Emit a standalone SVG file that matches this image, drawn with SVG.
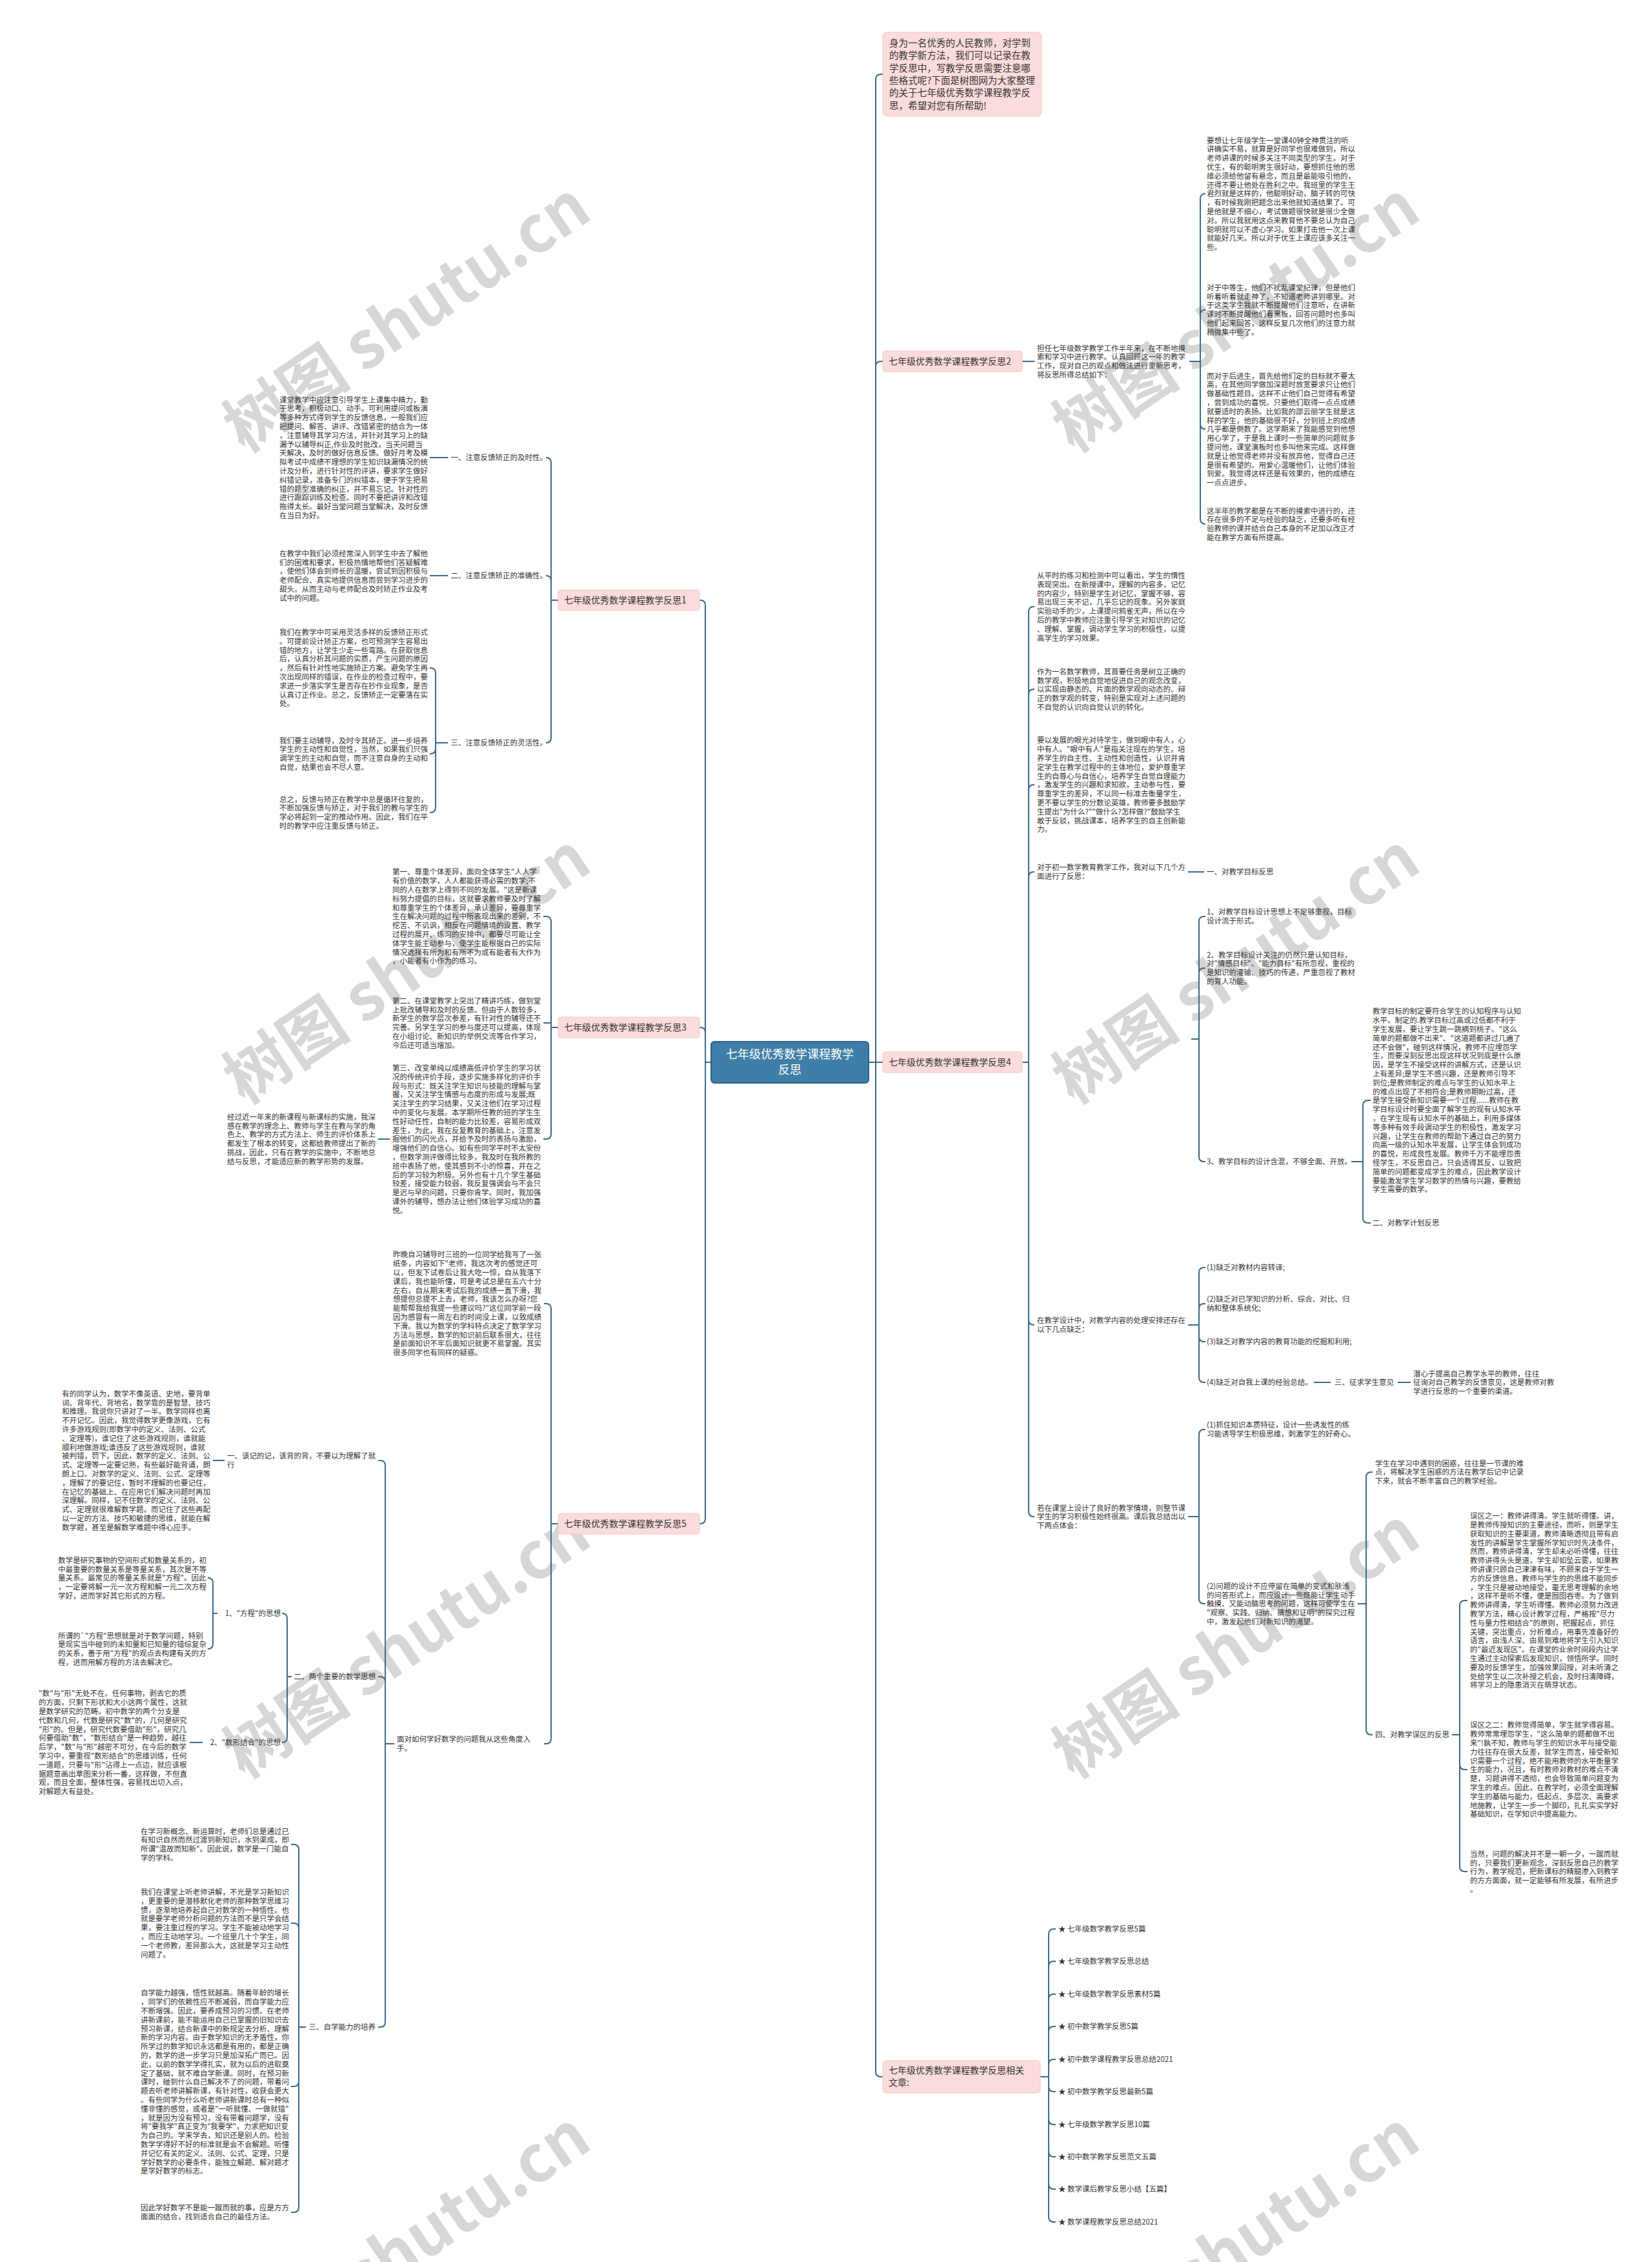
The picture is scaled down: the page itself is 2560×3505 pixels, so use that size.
<svg xmlns="http://www.w3.org/2000/svg" width="2560" height="3505" viewBox="0 0 2560 3505">
<style>
.t{font-family:"Noto Sans CJK SC","Liberation Sans",sans-serif;font-size:11.5px;fill:#333}
.e{text-anchor:end}
.lb{font-family:"Noto Sans CJK SC","Liberation Sans",sans-serif;font-size:14px;fill:#333}
.ct{font-family:"Noto Sans CJK SC","Liberation Sans",sans-serif;font-size:18px;fill:#fff;text-anchor:middle}
.pk{fill:#fbdcdc;stroke:#f3c4c4;stroke-width:1}
.c{fill:none;stroke:#3a6a8a;stroke-width:2}
.wm{font-family:"Noto Sans CJK SC","Liberation Sans",sans-serif;font-size:100px;font-weight:bold;fill:#d6d6d6;text-anchor:middle}
</style>
<rect width="2560" height="3505" fill="#fff"/>
<g id="watermarks">
<text class="wm" transform="translate(650,520) rotate(-34)">树图 shutu.cn</text>
<text class="wm" transform="translate(1935,520) rotate(-34)">树图 shutu.cn</text>
<text class="wm" transform="translate(650,1530) rotate(-34)">树图 shutu.cn</text>
<text class="wm" transform="translate(1935,1530) rotate(-34)">树图 shutu.cn</text>
<text class="wm" transform="translate(650,2575) rotate(-34)">树图 shutu.cn</text>
<text class="wm" transform="translate(1935,2575) rotate(-34)">树图 shutu.cn</text>
<text class="wm" transform="translate(650,3510) rotate(-34)">树图 shutu.cn</text>
<text class="wm" transform="translate(1935,3510) rotate(-34)">树图 shutu.cn</text>
</g>
<g id="connectors">
<path class="c" d="M1346,1646 H1368"/>
<path class="c" d="M1357,1646 V123 Q1357,115 1365,115 H1368"/>
<path class="c" d="M1357,1646 V568 Q1357,560 1365,560 H1368"/>
<path class="c" d="M1357,1646 V3210 Q1357,3218 1365,3218 H1368"/>
<path class="c" d="M1584,560 H1603"/>
<path class="c" d="M1843,560 H1860 V308 Q1860,300 1868,300"/>
<path class="c" d="M1860,560 V488 Q1860,480 1868,480"/>
<path class="c" d="M1860,560 V657 Q1860,665 1868,665"/>
<path class="c" d="M1860,560 V804 Q1860,812 1868,812"/>
<path class="c" d="M1584,1646 H1594 V948 Q1594,940 1602,940 H1603"/>
<path class="c" d="M1594,1646 V1076 Q1594,1068 1602,1068 H1603"/>
<path class="c" d="M1594,1646 V1224 Q1594,1216 1602,1216 H1603"/>
<path class="c" d="M1594,1646 V1359 Q1594,1351 1602,1351 H1603"/>
<path class="c" d="M1594,1646 V2045 Q1594,2053 1602,2053 H1603"/>
<path class="c" d="M1594,1646 V2342 Q1594,2350 1602,2350 H1603"/>
<path class="c" d="M1841,1351 H1866"/>
<path class="c" d="M1846,1610 H1858 V1428 Q1858,1420 1866,1420 H1868"/>
<path class="c" d="M1858,1610 V1508 Q1858,1500 1866,1500 H1868"/>
<path class="c" d="M1858,1610 V1792 Q1858,1800 1866,1800 H1868"/>
<path class="c" d="M2094,1800 H2112 V1713 Q2112,1705 2120,1705 H2124"/>
<path class="c" d="M2112,1800 V1887 Q2112,1895 2120,1895 H2124"/>
<path class="c" d="M1841,2053 H1858 V1972 Q1858,1964 1866,1964 H1868"/>
<path class="c" d="M1858,2053 V2028 Q1858,2020 1866,2020 H1868"/>
<path class="c" d="M1858,2053 V2071 Q1858,2079 1866,2079 H1868"/>
<path class="c" d="M1858,2053 V2134 Q1858,2142 1866,2142 H1868"/>
<path class="c" d="M2036,2142 H2062"/>
<path class="c" d="M2166,2142 H2186"/>
<path class="c" d="M1841,2350 H1858 V2223 Q1858,2215 1866,2215 H1868"/>
<path class="c" d="M1858,2350 V2477 Q1858,2485 1866,2485 H1868"/>
<path class="c" d="M2104,2485 H2117 V2289 Q2117,2281 2125,2281 H2127"/>
<path class="c" d="M2117,2485 V2680 Q2117,2688 2125,2688 H2127"/>
<path class="c" d="M2250,2688 H2262 V2488 Q2262,2480 2270,2480 H2274"/>
<path class="c" d="M2262,2688 V2734 Q2262,2742 2270,2742 H2274"/>
<path class="c" d="M2262,2688 V2892 Q2262,2900 2270,2900 H2274"/>
<path class="c" d="M1612,3218 H1625 V2997 Q1625,2989 1633,2989 H1636"/>
<path class="c" d="M1625,3218 V3047 Q1625,3039 1633,3039 H1636"/>
<path class="c" d="M1625,3218 V3098 Q1625,3090 1633,3090 H1636"/>
<path class="c" d="M1625,3218 V3148 Q1625,3140 1633,3140 H1636"/>
<path class="c" d="M1625,3218 V3199 Q1625,3191 1633,3191 H1636"/>
<path class="c" d="M1625,3218 V3233 Q1625,3241 1633,3241 H1636"/>
<path class="c" d="M1625,3218 V3284 Q1625,3292 1633,3292 H1636"/>
<path class="c" d="M1625,3218 V3334 Q1625,3342 1633,3342 H1636"/>
<path class="c" d="M1625,3218 V3384 Q1625,3392 1633,3392 H1636"/>
<path class="c" d="M1625,3218 V3435 Q1625,3443 1633,3443 H1636"/>
<path class="c" d="M1102,1646 H1093 V938 Q1093,930 1085,930 H1084"/>
<path class="c" d="M1093,1646 V1600 Q1093,1592 1085,1592 H1084"/>
<path class="c" d="M1093,1646 V2353 Q1093,2361 1085,2361 H1084"/>
<path class="c" d="M865,930 H854 V717 Q854,709 846,709"/>
<path class="c" d="M854,930 V900 Q854,892 846,892"/>
<path class="c" d="M854,930 V1143 Q854,1151 846,1151"/>
<path class="c" d="M694,709 H666"/>
<path class="c" d="M694,892 H666"/>
<path class="c" d="M694,1151 H675 V1043 Q675,1035 667,1035 H666"/>
<path class="c" d="M675,1151 V1160 Q675,1168 667,1168 H666"/>
<path class="c" d="M675,1151 V1251 Q675,1259 667,1259 H666"/>
<path class="c" d="M865,1592 H854 V1428 Q854,1420 846,1420 H842"/>
<path class="c" d="M854,1592 V1585 H842"/>
<path class="c" d="M854,1592 V1757 Q854,1765 846,1765 H842"/>
<path class="c" d="M604,1765 H586"/>
<path class="c" d="M865,2361 H854 V2028 Q854,2020 846,2020 H843"/>
<path class="c" d="M854,2361 V2694 Q854,2702 846,2702 H843"/>
<path class="c" d="M611,2702 H597 V2271 Q597,2263 589,2263 H586"/>
<path class="c" d="M597,2702 V2606 Q597,2598 589,2598 H586"/>
<path class="c" d="M597,2702 V3133 Q597,3141 589,3141 H586"/>
<path class="c" d="M348,2263 H330"/>
<path class="c" d="M452,2598 H445 V2508 Q445,2500 437,2500"/>
<path class="c" d="M445,2598 V2692 Q445,2700 437,2700"/>
<path class="c" d="M337,2500 H330 V2453 Q330,2445 322,2445"/>
<path class="c" d="M330,2500 V2547 Q330,2555 322,2555"/>
<path class="c" d="M314,2700 H294"/>
<path class="c" d="M474,3141 H463 V2866 Q463,2858 455,2858 H451"/>
<path class="c" d="M463,3141 V2988 Q463,2980 455,2980 H451"/>
<path class="c" d="M463,3141 V3225 Q463,3233 455,3233 H451"/>
<path class="c" d="M463,3141 V3420 Q463,3428 455,3428 H451"/>
</g>
<g id="center">
<rect x="1102" y="1614" width="244" height="64" rx="5" fill="#3f7ea6" stroke="#2d6289" stroke-width="2"/>
<text class="ct" x="1224" y="1640">七年级优秀数学课程教学</text>
<text class="ct" x="1224" y="1664">反思</text>
</g>
<g id="intro">
<rect class="pk" x="1368" y="50" width="246" height="130" rx="6"/>
<text class="lb" y="72" style="font-size:14.6px"><tspan x="1378" dy="0">身为一名优秀的人民教师，对学到</tspan><tspan x="1378" dy="19.3">的教学新方法，我们可以记录在教</tspan><tspan x="1378" dy="19.3">学反思中，写教学反思需要注意哪</tspan><tspan x="1378" dy="19.3">些格式呢?下面是树图网为大家整理</tspan><tspan x="1378" dy="19.3">的关于七年级优秀数学课程教学反</tspan><tspan x="1378" dy="19.3">思，希望对您有所帮助!</tspan></text>
</g>
<g id="r2">
<rect class="pk" x="1368" y="544" width="216" height="32" rx="4"/>
<text class="lb" x="1377" y="565">七年级优秀数学课程教学反思2</text>
</g>
<g id="r2-intro"><text class="t" y="543.5"><tspan x="1607" dy="0">担任七年级数学教学工作半年来，在不断地摸</tspan><tspan x="1607" dy="13.8">索和学习中进行教学。认真回顾这一年的教学</tspan><tspan x="1607" dy="13.8">工作，现对自己的观点和做法进行重新思考，</tspan><tspan x="1607" dy="13.8">将反思所得总结如下：</tspan></text></g>
<g id="r2-p1"><text class="t" y="221.5"><tspan x="1870" dy="0">要想让七年级学生一堂课40钟全神贯注的听</tspan><tspan x="1870" dy="13.8">讲确实不易，就算是好同学也很难做到，所以</tspan><tspan x="1870" dy="13.8">老师讲课的时候多关注不同类型的学生。对于</tspan><tspan x="1870" dy="13.8">优生，有的聪明男生很好动，要想抓住他的思</tspan><tspan x="1870" dy="13.8">维必须给他留有悬念，而且是最能吸引他的，</tspan><tspan x="1870" dy="13.8">还得不要让他处在胜利之中。我班里的学生王</tspan><tspan x="1870" dy="13.8">君烈就是这样的，他聪明好动，脑子转的可快</tspan><tspan x="1870" dy="13.8">，有时候我刚把题念出来他就知道结果了。可</tspan><tspan x="1870" dy="13.8">是他就是不细心，考试做题很快就是很少全做</tspan><tspan x="1870" dy="13.8">对。所以我就用这点来教育他不要总认为自己</tspan><tspan x="1870" dy="13.8">聪明就可以不虚心学习。如果打击他一次上课</tspan><tspan x="1870" dy="13.8">就能好几天。所以对于优生上课应该多关注一</tspan><tspan x="1870" dy="13.8">些。</tspan></text></g>
<g id="r2-p2"><text class="t" y="449.8"><tspan x="1870" dy="0">对于中等生，他们不扰乱课堂纪律，但是他们</tspan><tspan x="1870" dy="13.8">听着听着就走神了，不知道老师讲到哪里。对</tspan><tspan x="1870" dy="13.8">于这类学生我就不断提醒他们注意听，在讲新</tspan><tspan x="1870" dy="13.8">课时不断提醒他们看黑板，回答问题时也多叫</tspan><tspan x="1870" dy="13.8">他们起来回答，这样反复几次他们的注意力就</tspan><tspan x="1870" dy="13.8">稍微集中些了。</tspan></text></g>
<g id="r2-p3"><text class="t" y="586.5"><tspan x="1870" dy="0">而对于后进生，首先给他们定的目标就不要太</tspan><tspan x="1870" dy="13.8">高，在其他同学做加深题时放宽要求只让他们</tspan><tspan x="1870" dy="13.8">做基础性题目。这样不止他们自己觉得有希望</tspan><tspan x="1870" dy="13.8">，尝到成功的喜悦。只要他们取得一点点成绩</tspan><tspan x="1870" dy="13.8">就要适时的表扬。比如我的邵云丽学生就是这</tspan><tspan x="1870" dy="13.8">样的学生，他的基础很不好，分到班上的成绩</tspan><tspan x="1870" dy="13.8">几乎都是倒数了。这学期来了我能感觉到他想</tspan><tspan x="1870" dy="13.8">用心学了，于是我上课时一些简单的问题就多</tspan><tspan x="1870" dy="13.8">提问他，课堂演板时也多叫他来完成。这样做</tspan><tspan x="1870" dy="13.8">就是让他觉得老师并没有放弃他，觉得自己还</tspan><tspan x="1870" dy="13.8">是很有希望的。用爱心温暖他们，让他们体验</tspan><tspan x="1870" dy="13.8">到爱。我觉得这样还是有效果的，他的成绩在</tspan><tspan x="1870" dy="13.8">一点点进步。</tspan></text></g>
<g id="r2-p4"><text class="t" y="795.6"><tspan x="1870" dy="0">这半年的教学都是在不断的摸索中进行的，还</tspan><tspan x="1870" dy="13.8">存在很多的不足与经验的缺乏，还要多听有经</tspan><tspan x="1870" dy="13.8">验教师的课并结合自己本身的不足加以改正才</tspan><tspan x="1870" dy="13.8">能在教学方面有所提高。</tspan></text></g>
<g id="r4">
<rect class="pk" x="1368" y="1630" width="216" height="32" rx="4"/>
<text class="lb" x="1377" y="1651">七年级优秀数学课程教学反思4</text>
</g>
<g id="r4-a"><text class="t" y="896"><tspan x="1607" dy="0">从平时的练习和检测中可以看出，学生的惰性</tspan><tspan x="1607" dy="13.8">表现突出。在新授课中，理解的内容多，记忆</tspan><tspan x="1607" dy="13.8">的内容少，特别是学生对记忆，掌握不够，容</tspan><tspan x="1607" dy="13.8">易出现三天不记，几乎忘记的现象。另外家庭</tspan><tspan x="1607" dy="13.8">实验动手的少，上课提问鸦雀无声，所以在今</tspan><tspan x="1607" dy="13.8">后的教学中教师应注重引导学生对知识的记忆</tspan><tspan x="1607" dy="13.8">、理解、掌握，调动学生学习的积极性，以提</tspan><tspan x="1607" dy="13.8">高学生的学习效果。</tspan></text></g>
<g id="r4-b"><text class="t" y="1044.7"><tspan x="1607" dy="0">作为一名数学教师，其首要任务是树立正确的</tspan><tspan x="1607" dy="13.8">数学观，积极地自觉地促进自己的观念改变，</tspan><tspan x="1607" dy="13.8">以实现由静态的、片面的数学观向动态的、辩</tspan><tspan x="1607" dy="13.8">正的数学观的转变，特别是实现对上述问题的</tspan><tspan x="1607" dy="13.8">不自觉的认识向自觉认识的转化。</tspan></text></g>
<g id="r4-c"><text class="t" y="1151.3"><tspan x="1607" dy="0">要以发展的眼光对待学生，做到眼中有人，心</tspan><tspan x="1607" dy="13.8">中有人。"眼中有人"是指关注现在的学生，培</tspan><tspan x="1607" dy="13.8">养学生的自主性、主动性和创造性，认识并肯</tspan><tspan x="1607" dy="13.8">定学生在教学过程中的主体地位，爱护尊重学</tspan><tspan x="1607" dy="13.8">生的自尊心与自信心，培养学生自觉自理能力</tspan><tspan x="1607" dy="13.8">，激发学生的兴趣和求知欲，主动参与性，要</tspan><tspan x="1607" dy="13.8">尊重学生的差异，不以同一标准去衡量学生，</tspan><tspan x="1607" dy="13.8">更不要以学生的分数论英雄，教师要多鼓励学</tspan><tspan x="1607" dy="13.8">生提出"为什么?""做什么?怎样做?"鼓励学生</tspan><tspan x="1607" dy="13.8">敢于反驳，挑战课本，培养学生的自主创新能</tspan><tspan x="1607" dy="13.8">力。</tspan></text></g>
<g id="r4-d"><text class="t" y="1348.4"><tspan x="1607" dy="0">对于初一数学教育教学工作，我对以下几个方</tspan><tspan x="1607" dy="13.8">面进行了反思：</tspan></text></g>
<g id="r4-d1"><text class="t" x="1870" y="1355.3">一、对教学目标反思</text></g>
<g id="r4-g1"><text class="t" y="1417.4"><tspan x="1870" dy="0">1、对教学目标设计思想上不足够重视，目标</tspan><tspan x="1870" dy="13.8">设计流于形式。</tspan></text></g>
<g id="r4-g2"><text class="t" y="1483.6"><tspan x="1870" dy="0">2、教学目标设计关注的仍然只是认知目标，</tspan><tspan x="1870" dy="13.8">对"情感目标"、"能力目标"有所忽视，重视的</tspan><tspan x="1870" dy="13.8">是知识的灌输、技巧的传递，严重忽视了教材</tspan><tspan x="1870" dy="13.8">的育人功能。</tspan></text></g>
<g id="r4-g3"><text class="t" x="1870" y="1804.3">3、教学目标的设计含混，不够全面、开放。</text></g>
<g id="r4-g3a"><text class="t" y="1571.3"><tspan x="2127" dy="0">教学目标的制定要符合学生的认知程序与认知</tspan><tspan x="2127" dy="13.8">水平。制定的.教学目标过高或过低都不利于</tspan><tspan x="2127" dy="13.8">学生发展，要让学生跳一跳摘到桃子。"这么</tspan><tspan x="2127" dy="13.8">简单的题都做不出来"、"这道题都讲过几遍了</tspan><tspan x="2127" dy="13.8">还不会做"，碰到这样情况，教师不应埋怨学</tspan><tspan x="2127" dy="13.8">生，而要深刻反思出现这样状况到底是什么原</tspan><tspan x="2127" dy="13.8">因，是学生不接受这样的讲解方式，还是认识</tspan><tspan x="2127" dy="13.8">上有差异;是学生不感兴趣，还是教师引导不</tspan><tspan x="2127" dy="13.8">到位;是教师制定的难点与学生的认知水平上</tspan><tspan x="2127" dy="13.8">的难点出现了不相符合;是教师期盼过高，还</tspan><tspan x="2127" dy="13.8">是学生接受新知识需要一个过程......教师在教</tspan><tspan x="2127" dy="13.8">学目标设计时要全面了解学生的现有认知水平</tspan><tspan x="2127" dy="13.8">，在学生现有认知水平的基础上，利用多媒体</tspan><tspan x="2127" dy="13.8">等多种有效手段调动学生的积极性，激发学习</tspan><tspan x="2127" dy="13.8">兴趣，让学生在教师的帮助下通过自己的努力</tspan><tspan x="2127" dy="13.8">向高一级的认知水平发展，让学生体会到成功</tspan><tspan x="2127" dy="13.8">的喜悦，形成良性发展。教师千万不能埋怨责</tspan><tspan x="2127" dy="13.8">怪学生，不反思自己，只会适得其反，以致把</tspan><tspan x="2127" dy="13.8">简单的问题都变成学生的难点，因此教学设计</tspan><tspan x="2127" dy="13.8">要能激发学生学习数学的热情与兴趣，要教给</tspan><tspan x="2127" dy="13.8">学生需要的数学。</tspan></text></g>
<g id="r4-g3b"><text class="t" x="2127" y="1899.3">二、对教学计划反思</text></g>
<g id="r4-e"><text class="t" y="2050.4"><tspan x="1607" dy="0">在教学设计中，对教学内容的处理安排还存在</tspan><tspan x="1607" dy="13.8">以下几点缺乏：</tspan></text></g>
<g id="r4-e1"><text class="t" x="1870" y="1968.3">(1)缺乏对教材内容转译;</text></g>
<g id="r4-e2"><text class="t" y="2017.4"><tspan x="1870" dy="0">(2)缺乏对已学知识的分析、综合、对比、归</tspan><tspan x="1870" dy="13.8">纳和整体系统化;</tspan></text></g>
<g id="r4-e3"><text class="t" x="1870" y="2083.3">(3)缺乏对教学内容的教育功能的挖掘和利用;</text></g>
<g id="r4-e4"><text class="t" x="1870" y="2146.3">(4)缺乏对自我上课的经验总结。</text></g>
<g id="r4-e4a"><text class="t" x="2068" y="2146.3">三、征求学生意见</text></g>
<g id="r4-e4b"><text class="t" y="2132.5"><tspan x="2190" dy="0">潜心于提高自己教学水平的教师，往往</tspan><tspan x="2190" dy="13.8">征询对自己教学的反馈意见，这是教师对教</tspan><tspan x="2190" dy="13.8">学进行反思的一个重要的渠道。</tspan></text></g>
<g id="r4-f"><text class="t" y="2340.5"><tspan x="1607" dy="0">若在课堂上设计了良好的教学情境，则整节课</tspan><tspan x="1607" dy="13.8">学生的学习积极性始终很高。课后我总结出以</tspan><tspan x="1607" dy="13.8">下两点体会：</tspan></text></g>
<g id="r4-f1"><text class="t" y="2212.4"><tspan x="1870" dy="0">(1)抓住知识本质特征，设计一些诱发性的练</tspan><tspan x="1870" dy="13.8">习能诱导学生积极思维，刺激学生的好奇心。</tspan></text></g>
<g id="r4-f2"><text class="t" y="2461.7"><tspan x="1870" dy="0">(2)问题的设计不应停留在简单的变式和肤浅</tspan><tspan x="1870" dy="13.8">的问答形式上，而应设计一些既能让学生动手</tspan><tspan x="1870" dy="13.8">触摸、又能动脑思考的问题，这样可使学生在</tspan><tspan x="1870" dy="13.8">"观察、实践、归纳、猜想和证明"的探究过程</tspan><tspan x="1870" dy="13.8">中，激发起他们对新知识的渴望。</tspan></text></g>
<g id="r4-f2a"><text class="t" y="2271.5"><tspan x="2131" dy="0">学生在学习中遇到的困惑，往往是一节课的难</tspan><tspan x="2131" dy="13.8">点，将解决学生困惑的方法在教学后记中记录</tspan><tspan x="2131" dy="13.8">下来，就会不断丰富自己的教学经验。</tspan></text></g>
<g id="r4-f2b"><text class="t" x="2131" y="2692.3">四、对教学误区的反思</text></g>
<g id="r4-w1"><text class="t" y="2353.2"><tspan x="2278" dy="0">误区之一：教师讲得清。学生就听得懂。讲，</tspan><tspan x="2278" dy="13.8">是教师传授知识的主要途径，而听，则是学生</tspan><tspan x="2278" dy="13.8">获取知识的主要渠道，教师清晰透彻且带有启</tspan><tspan x="2278" dy="13.8">发性的讲解是学生掌握所学知识时先决条件，</tspan><tspan x="2278" dy="13.8">然而，教师讲得清，学生却未必听得懂，往往</tspan><tspan x="2278" dy="13.8">教师讲得头头是道，学生却如坠云雾，如果教</tspan><tspan x="2278" dy="13.8">师讲课只顾自己津津有味，不顾来自于学生一</tspan><tspan x="2278" dy="13.8">方的反馈信息，教师与学生的的思维不能同步</tspan><tspan x="2278" dy="13.8">，学生只是被动地接受，毫无思考理解的余地</tspan><tspan x="2278" dy="13.8">，这样不是听不懂，便是囫囵吞枣。为了做到</tspan><tspan x="2278" dy="13.8">教师讲得清，学生听得懂。教师必须努力改进</tspan><tspan x="2278" dy="13.8">教学方法，精心设计教学过程，严格按"尽力</tspan><tspan x="2278" dy="13.8">性与量力性相结合"的原则，把握起点，抓住</tspan><tspan x="2278" dy="13.8">关键，突出重点，分析难点，用事先准备好的</tspan><tspan x="2278" dy="13.8">语言，由浅人深、由易到难地将学生引入知识</tspan><tspan x="2278" dy="13.8">的"最近发现区"。在课堂的业余时间段内让学</tspan><tspan x="2278" dy="13.8">生通过主动探索后发现知识，领悟所学。同时</tspan><tspan x="2278" dy="13.8">要及时反馈学生，加强效果回授，对未听清之</tspan><tspan x="2278" dy="13.8">处给学生以二次补授之机会，及时扫清障碍，</tspan><tspan x="2278" dy="13.8">将学习上的隐患消灭在萌芽状态。</tspan></text></g>
<g id="r4-w2"><text class="t" y="2677.3"><tspan x="2278" dy="0">误区之二：教师觉得简单，学生就学得容易。</tspan><tspan x="2278" dy="13.8">教师常常埋怨学生，"这么简单的题都做不出</tspan><tspan x="2278" dy="13.8">来"!孰不知，教师与学生的知识水平与接受能</tspan><tspan x="2278" dy="13.8">力往往存在很大反差，就学生而言，接受新知</tspan><tspan x="2278" dy="13.8">识需要一个过程，绝不能用教师的水平衡量学</tspan><tspan x="2278" dy="13.8">生的能力，况且，有时教师对教材的难点不清</tspan><tspan x="2278" dy="13.8">楚，习题讲得不透彻，也会导致简单问题变为</tspan><tspan x="2278" dy="13.8">学生的难点。因此，在教学时，必须全面理解</tspan><tspan x="2278" dy="13.8">学生的基础与能力，低起点、多层次、高要求</tspan><tspan x="2278" dy="13.8">地施教，让学生一步一个脚印，扎扎实实学好</tspan><tspan x="2278" dy="13.8">基础知识，在学知识中提高能力。</tspan></text></g>
<g id="r4-w3"><text class="t" y="2876.7"><tspan x="2278" dy="0">当然，问题的解决并不是一朝一夕，一蹴而就</tspan><tspan x="2278" dy="13.8">的，只要我们更新观念，深刻反思自己的教学</tspan><tspan x="2278" dy="13.8">行为，教学规范，把新课标的精髓渗入到教学</tspan><tspan x="2278" dy="13.8">的方方面面，就一定能够有所发展，有所进步</tspan><tspan x="2278" dy="13.8">。</tspan></text></g>
<g id="r-rel">
<rect class="pk" x="1368" y="3193" width="244" height="50" rx="5"/>
<text class="lb" y="3213"><tspan x="1377" dy="0">七年级优秀数学课程教学反思相关</tspan><tspan x="1377" dy="19">文章:</tspan></text>
</g>
<g id="rel-items">
<text class="t" x="1640" y="2993.3">★ 七年级数学教学反思5篇</text>
<text class="t" x="1640" y="3043.3">★ 七年级数学教学反思总结</text>
<text class="t" x="1640" y="3094.3">★ 七年级数学教学反思素材5篇</text>
<text class="t" x="1640" y="3144.3">★ 初中数学教学反思5篇</text>
<text class="t" x="1640" y="3195.3">★ 初中数学课程教学反思总结2021</text>
<text class="t" x="1640" y="3245.3">★ 初中数学教学反思最新5篇</text>
<text class="t" x="1640" y="3296.3">★ 七年级数学教学反思10篇</text>
<text class="t" x="1640" y="3346.3">★ 初中数学教学反思范文五篇</text>
<text class="t" x="1640" y="3396.3">★ 数学课后教学反思小结【五篇】</text>
<text class="t" x="1640" y="3447.3">★ 数学课程教学反思总结2021</text>
</g>
<g id="l1">
<rect class="pk" x="865" y="914" width="219" height="32" rx="4"/>
<text class="lb" x="874" y="935">七年级优秀数学课程教学反思1</text>
</g>
<g id="l1-a"><text class="t e" x="848" y="713.3">一、注意反馈矫正的及时性。</text></g>
<g id="l1-b"><text class="t e" x="848" y="896.3">二、注意反馈矫正的准确性。</text></g>
<g id="l1-c"><text class="t e" x="848" y="1155.3">三、注意反馈矫正的灵活性。</text></g>
<g id="l1-a1"><text class="t" y="623.6"><tspan x="433" dy="0">课堂教学中应注意引导学生上课集中精力，勤</tspan><tspan x="433" dy="13.8">于思考，积极动口、动手。可利用提问或板演</tspan><tspan x="433" dy="13.8">等多种方式得到学生的反馈信息，一般我们应</tspan><tspan x="433" dy="13.8">把提问、解答、讲评、改错紧密的结合为一体</tspan><tspan x="433" dy="13.8">，注意辅导其学习方法，并针对其学习上的缺</tspan><tspan x="433" dy="13.8">漏予以辅导纠正,作业及时批改，当天问题当</tspan><tspan x="433" dy="13.8">天解决，及时的做好信息反馈。做好月考及模</tspan><tspan x="433" dy="13.8">拟考试中成绩不理想的学生知识缺漏情况的统</tspan><tspan x="433" dy="13.8">计及分析，进行针对性的评讲，要求学生做好</tspan><tspan x="433" dy="13.8">纠错记录，准备专门的纠错本，便于学生把易</tspan><tspan x="433" dy="13.8">错的题型准确的纠正，并不易忘记。针对性的</tspan><tspan x="433" dy="13.8">进行跟踪训练及检查。同时不要把讲评和改错</tspan><tspan x="433" dy="13.8">拖得太长。最好当堂问题当堂解决，及时反馈</tspan><tspan x="433" dy="13.8">在当日为好。</tspan></text></g>
<g id="l1-b1"><text class="t" y="861.8"><tspan x="433" dy="0">在教学中我们必须经常深入到学生中去了解他</tspan><tspan x="433" dy="13.8">们的困难和要求，积极热情地帮他们答疑解难</tspan><tspan x="433" dy="13.8">，使他们体会到师长的温暖，尝试到因积极与</tspan><tspan x="433" dy="13.8">老师配合、真实地提供信息而尝到学习进步的</tspan><tspan x="433" dy="13.8">甜头。从而主动与老师配合及时矫正作业及考</tspan><tspan x="433" dy="13.8">试中的问题。</tspan></text></g>
<g id="l1-c1"><text class="t" y="984"><tspan x="433" dy="0">我们在教学中可采用灵活多样的反馈矫正形式</tspan><tspan x="433" dy="13.8">。可提前设计矫正方案，也可预测学生容易出</tspan><tspan x="433" dy="13.8">错的地方，让学生少走一些弯路。在获取信息</tspan><tspan x="433" dy="13.8">后，认真分析其问题的实质，产生问题的原因</tspan><tspan x="433" dy="13.8">，然后有针对性地实施矫正方案。避免学生再</tspan><tspan x="433" dy="13.8">次出现同样的错误，在作业的检查过程中，要</tspan><tspan x="433" dy="13.8">求进一步落实学生是否存在抄作业现象，是否</tspan><tspan x="433" dy="13.8">认真订正作业。总之，反馈矫正一定要落在实</tspan><tspan x="433" dy="13.8">处。</tspan></text></g>
<g id="l1-c2"><text class="t" y="1151.6"><tspan x="433" dy="0">我们要主动辅导，及时令其矫正。进一步培养</tspan><tspan x="433" dy="13.8">学生的主动性和自觉性，当然，如果我们只强</tspan><tspan x="433" dy="13.8">调学生的主动和自觉，而不注意自身的主动和</tspan><tspan x="433" dy="13.8">自觉，结果也会不尽人意。</tspan></text></g>
<g id="l1-c3"><text class="t" y="1242.6"><tspan x="433" dy="0">总之，反馈与矫正在教学中总是循环往复的，</tspan><tspan x="433" dy="13.8">不断加强反馈与矫正，对于我们的教与学生的</tspan><tspan x="433" dy="13.8">学必将起到一定的推动作用。因此，我们在平</tspan><tspan x="433" dy="13.8">时的教学中应注重反馈与矫正。</tspan></text></g>
<g id="l3">
<rect class="pk" x="865" y="1576" width="219" height="32" rx="4"/>
<text class="lb" x="874" y="1597">七年级优秀数学课程教学反思3</text>
</g>
<g id="l3-a"><text class="t" y="1355.3"><tspan x="608" dy="0">第一、尊重个体差异，面向全体学生"人人学</tspan><tspan x="608" dy="13.8">有价值的数学，人人都能获得必需的数学;不</tspan><tspan x="608" dy="13.8">同的人在数学上得到不同的发展。"这是新课</tspan><tspan x="608" dy="13.8">标努力提倡的目标，这就要求教师要及时了解</tspan><tspan x="608" dy="13.8">和尊重学生的个体差异，承认差异，要尊重学</tspan><tspan x="608" dy="13.8">生在解决问题的过程中所表现出来的差别，不</tspan><tspan x="608" dy="13.8">挖苦、不讥讽，相反在问题情境的设置、教学</tspan><tspan x="608" dy="13.8">过程的展开、练习的安排中，都要尽可能让全</tspan><tspan x="608" dy="13.8">体学生能主动参与，使学生能根据自己的实际</tspan><tspan x="608" dy="13.8">情况选择有所为和有所不为或有能者有大作为</tspan><tspan x="608" dy="13.8">，小能者有小作为的练习。</tspan></text></g>
<g id="l3-b"><text class="t" y="1554.8"><tspan x="608" dy="0">第二、在课堂教学上突出了精讲巧练，做到堂</tspan><tspan x="608" dy="13.8">上批改辅导和及时的反馈。但由于人数较多，</tspan><tspan x="608" dy="13.8">新学生的数学层次参差，有针对性的辅导还不</tspan><tspan x="608" dy="13.8">完善。另学生学习的参与度还可以提高，体现</tspan><tspan x="608" dy="13.8">在小组讨论、新知识的举例交流等合作学习，</tspan><tspan x="608" dy="13.8">今后还可适当增加。</tspan></text></g>
<g id="l3-c"><text class="t" y="1658.9"><tspan x="608" dy="0">第三、改变单纯以成绩高低评价学生的学习状</tspan><tspan x="608" dy="13.8">况的传统评价手段，逐步实施多样化的评价手</tspan><tspan x="608" dy="13.8">段与形式：既关注学生知识与技能的理解与掌</tspan><tspan x="608" dy="13.8">握，又关注学生情感与态度的形成与发展;既</tspan><tspan x="608" dy="13.8">关注学生的学习结果，又关注他们在学习过程</tspan><tspan x="608" dy="13.8">中的变化与发展。本学期所任教的班的学生生</tspan><tspan x="608" dy="13.8">性好动任性，自制的能力比较差，容易形成双</tspan><tspan x="608" dy="13.8">差生，为此，我在反复教育的基础上，注意发</tspan><tspan x="608" dy="13.8">掘他们的闪光点，并给予及时的表扬与激励，</tspan><tspan x="608" dy="13.8">增强他们的自信心。如有些同学平时不太安份</tspan><tspan x="608" dy="13.8">，但数学测评做得比较多，我及时在我所教的</tspan><tspan x="608" dy="13.8">班中表扬了他，使其感到不小的惊喜，并在之</tspan><tspan x="608" dy="13.8">后的学习较为积极。另外也有十几个学生基础</tspan><tspan x="608" dy="13.8">较差，接受能力较弱，我反复强调会与不会只</tspan><tspan x="608" dy="13.8">是迟与早的问题，只要你肯学。同时，我加强</tspan><tspan x="608" dy="13.8">课外的辅导，想办法让他们体验学习成功的喜</tspan><tspan x="608" dy="13.8">悦。</tspan></text></g>
<g id="l3-c1"><text class="t" y="1734.8"><tspan x="352" dy="0">经过近一年来的新课程与新课标的实施，我深</tspan><tspan x="352" dy="13.8">感在教学的理念上、教师与学生在教与学的角</tspan><tspan x="352" dy="13.8">色上、教学的方式方法上、师生的评价体系上</tspan><tspan x="352" dy="13.8">都发生了根本的转变，这都给教师提出了新的</tspan><tspan x="352" dy="13.8">挑战，因此，只有在教学的实施中，不断地总</tspan><tspan x="352" dy="13.8">结与反思，才能适应新的教学形势的发展。</tspan></text></g>
<g id="l5">
<rect class="pk" x="865" y="2345" width="219" height="32" rx="4"/>
<text class="lb" x="874" y="2366">七年级优秀数学课程教学反思5</text>
</g>
<g id="l5-a"><text class="t" y="1948.4"><tspan x="609" dy="0">昨晚自习辅导时三班的一位同学给我写了一张</tspan><tspan x="609" dy="13.8">纸条，内容如下"老师，我这次考的感觉还可</tspan><tspan x="609" dy="13.8">以，但发下试卷后让我大吃一惊，自从我落下</tspan><tspan x="609" dy="13.8">课后，我也能听懂，可是考试总是在五六十分</tspan><tspan x="609" dy="13.8">左右，自从期末考试后我的成绩一直下滑，我</tspan><tspan x="609" dy="13.8">想提但总提不上去，老师，我该怎么办呀?您</tspan><tspan x="609" dy="13.8">能帮帮我给我提一些建议吗?"这位同学前一段</tspan><tspan x="609" dy="13.8">因为感冒有一周左右的时间没上课，以致成绩</tspan><tspan x="609" dy="13.8">下滑。我以为数学的学科特点决定了数学学习</tspan><tspan x="609" dy="13.8">方法与思想，数学的知识前后联系很大，往往</tspan><tspan x="609" dy="13.8">是前面知识不牢后面知识就更不易掌握。其实</tspan><tspan x="609" dy="13.8">很多同学也有同样的疑惑。</tspan></text></g>
<g id="l5-b"><text class="t" y="2699.4"><tspan x="615" dy="0">面对如何学好数学的问题我从这些角度入</tspan><tspan x="615" dy="13.8">手。</tspan></text></g>
<g id="l5-b1"><text class="t" y="2260.4"><tspan x="352" dy="0">一、该记的记，该背的背，不要以为理解了就</tspan><tspan x="352" dy="13.8">行</tspan></text></g>
<g id="l5-b1a"><text class="t" y="2163.8"><tspan x="96" dy="0">有的同学认为，数学不像英语、史地，要背单</tspan><tspan x="96" dy="13.8">词、背年代、背地名，数学靠的是智慧、技巧</tspan><tspan x="96" dy="13.8">和推理。我说你只讲对了一半。数学同样也离</tspan><tspan x="96" dy="13.8">不开记忆。因此，我觉得数学更像游戏，它有</tspan><tspan x="96" dy="13.8">许多游戏规则(即数学中的定义、法则、公式</tspan><tspan x="96" dy="13.8">、定理等)，谁记住了这些游戏规则，谁就能</tspan><tspan x="96" dy="13.8">顺利地做游戏;谁违反了这些游戏规则，谁就</tspan><tspan x="96" dy="13.8">被判错，罚下。因此，数学的定义、法则、公</tspan><tspan x="96" dy="13.8">式、定理等一定要记熟，有些最好能背诵，朗</tspan><tspan x="96" dy="13.8">朗上口。对数学的定义、法则、公式、定理等</tspan><tspan x="96" dy="13.8">，理解了的要记住，暂时不理解的也要记住，</tspan><tspan x="96" dy="13.8">在记忆的基础上、在应用它们解决问题时再加</tspan><tspan x="96" dy="13.8">深理解。同样，记不住数学的定义、法则、公</tspan><tspan x="96" dy="13.8">式、定理就很难解数学题。而记住了这些再配</tspan><tspan x="96" dy="13.8">以一定的方法、技巧和敏捷的思维，就能在解</tspan><tspan x="96" dy="13.8">数学题，甚至是解数学难题中得心应手。</tspan></text></g>
<g id="l5-b2"><text class="t e" x="582" y="2602.3">二、两个重要的数学思想</text></g>
<g id="l5-b2a"><text class="t e" x="435" y="2504.3">1、"方程"的思想</text></g>
<g id="l5-b2a1"><text class="t" y="2421.7"><tspan x="90" dy="0">数学是研究事物的空间形式和数量关系的，初</tspan><tspan x="90" dy="13.8">中最重要的数量关系是等量关系，其次是不等</tspan><tspan x="90" dy="13.8">量关系。最常见的等量关系就是"方程"。因此</tspan><tspan x="90" dy="13.8">，一定要将解一元一次方程和解一元二次方程</tspan><tspan x="90" dy="13.8">学好，进而学好其它形式的方程。</tspan></text></g>
<g id="l5-b2a2"><text class="t" y="2538.6"><tspan x="90" dy="0">所谓的`"方程"思想就是对于数学问题，特别</tspan><tspan x="90" dy="13.8">是现实当中碰到的未知量和已知量的错综复杂</tspan><tspan x="90" dy="13.8">的关系，善于用"方程"的观点去构建有关的方</tspan><tspan x="90" dy="13.8">程，进而用解方程的方法去解决它。</tspan></text></g>
<g id="l5-b2b"><text class="t e" x="435" y="2704.3">2、"数形结合"的思想</text></g>
<g id="l5-b2b1"><text class="t" y="2628.4"><tspan x="60" dy="0">"数"与"形"无处不在。任何事物，剥去它的质</tspan><tspan x="60" dy="13.8">的方面，只剩下形状和大小这两个属性，这就</tspan><tspan x="60" dy="13.8">是数学研究的范畴。初中数学的两个分支是</tspan><tspan x="60" dy="13.8">代数和几何，代数是研究"数"的，几何是研究</tspan><tspan x="60" dy="13.8">"形"的。但是，研究代数要借助"形"，研究几</tspan><tspan x="60" dy="13.8">何要借助"数"，"数形结合"是一种趋势，越往</tspan><tspan x="60" dy="13.8">后学，"数"与"形"越密不可分，在今后的数学</tspan><tspan x="60" dy="13.8">学习中，要重视"数形结合"的思维训练，任何</tspan><tspan x="60" dy="13.8">一道题，只要与"形"沾得上一点边，就应该根</tspan><tspan x="60" dy="13.8">据题意画出草图来分析一番，这样做，不但直</tspan><tspan x="60" dy="13.8">观，而且全面，整体性强，容易找出切入点，</tspan><tspan x="60" dy="13.8">对解题大有益处。</tspan></text></g>
<g id="l5-b3"><text class="t e" x="582" y="3145.3">三、自学能力的培养</text></g>
<g id="l5-b3a"><text class="t" y="2841.6"><tspan x="218" dy="0">在学习新概念、新运算时，老师们总是通过已</tspan><tspan x="218" dy="13.8">有知识自然而然过渡到新知识，水到渠成，即</tspan><tspan x="218" dy="13.8">所谓"温故而知新"。因此说，数学是一门能自</tspan><tspan x="218" dy="13.8">学的学科。</tspan></text></g>
<g id="l5-b3b"><text class="t" y="2936"><tspan x="218" dy="0">我们在课堂上听老师讲解，不光是学习新知识</tspan><tspan x="218" dy="13.8">，更重要的是潜移默化老师的那种数学思维习</tspan><tspan x="218" dy="13.8">惯，逐渐地培养起自己对数学的一种悟性。也</tspan><tspan x="218" dy="13.8">就是要学老师分析问题的方法而不是只学会结</tspan><tspan x="218" dy="13.8">果，要注重过程的学习。学生不能被动地学习</tspan><tspan x="218" dy="13.8">，而应主动地学习。一个班里几十个学生，同</tspan><tspan x="218" dy="13.8">一个老师教，差异那么大，这就是学习主动性</tspan><tspan x="218" dy="13.8">问题了。</tspan></text></g>
<g id="l5-b3c"><text class="t" y="3092.4"><tspan x="218" dy="0">自学能力越强，悟性就越高。随着年龄的增长</tspan><tspan x="218" dy="13.8">，同学们的依赖性应不断减弱，而自学能力应</tspan><tspan x="218" dy="13.8">不断增强。因此，要养成预习的习惯。在老师</tspan><tspan x="218" dy="13.8">讲新课前，能不能运用自己已掌握的旧知识去</tspan><tspan x="218" dy="13.8">预习新课，结合新课中的新规定去分析、理解</tspan><tspan x="218" dy="13.8">新的学习内容。由于数学知识的无矛盾性，你</tspan><tspan x="218" dy="13.8">所学过的数学知识永远都是有用的，都是正确</tspan><tspan x="218" dy="13.8">的，数学的进一步学习只是加深拓广而已。因</tspan><tspan x="218" dy="13.8">此，以前的数学学得扎实，就为以后的进取奠</tspan><tspan x="218" dy="13.8">定了基础，就不难自学新课。同时，在预习新</tspan><tspan x="218" dy="13.8">课时，碰到什么自己解决不了的问题，带着问</tspan><tspan x="218" dy="13.8">题去听老师讲解新课，有针对性，收获会更大</tspan><tspan x="218" dy="13.8">。有些同学为什么听老师讲新课时总有一种似</tspan><tspan x="218" dy="13.8">懂非懂的感觉，或者是"一听就懂、一做就错"</tspan><tspan x="218" dy="13.8">，就是因为没有预习，没有带着问题学，没有</tspan><tspan x="218" dy="13.8">将"要我学"真正变为"我要学"，力求把知识变</tspan><tspan x="218" dy="13.8">为自己的。学来学去，知识还是别人的。检验</tspan><tspan x="218" dy="13.8">数学学得好不好的标准就是会不会解题。听懂</tspan><tspan x="218" dy="13.8">并记忆有关的定义、法则、公式、定理，只是</tspan><tspan x="218" dy="13.8">学好数学的必要条件，能独立解题、解对题才</tspan><tspan x="218" dy="13.8">是学好数学的标志。</tspan></text></g>
<g id="l5-b3d"><text class="t" y="3425.4"><tspan x="218" dy="0">因此学好数学不是能一蹴而就的事，应是方方</tspan><tspan x="218" dy="13.8">面面的结合，找到适合自己的最佳方法。</tspan></text></g>
</svg>
